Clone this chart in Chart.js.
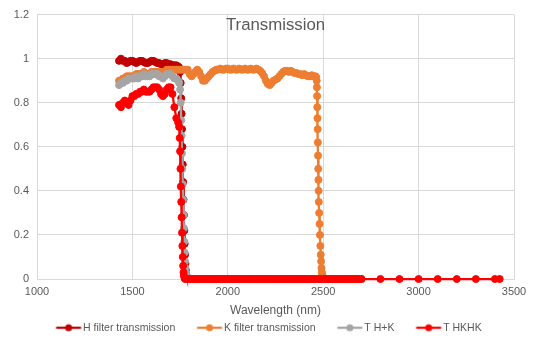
<!DOCTYPE html>
<html>
<head>
<meta charset="utf-8">
<title>Transmission</title>
<script src="https://cdn.jsdelivr.net/npm/chart.js@4/dist/chart.umd.min.js"></script>
<style>
  html, body { margin: 0; padding: 0; background: #ffffff; }
  #wrap { width: 537px; height: 344px; }
</style>
</head>
<body>
<div id="wrap"><canvas id="chart" width="537" height="344"></canvas></div>
<script>
// ---- Data (wavelength in nm, transmission as fraction) ----
const chartTitle = 'Transmission';
const xAxisTitle = 'Wavelength (nm)';
const seriesNames = ['H filter transmission', 'K filter transmission', 'T H+K', 'T HKHK'];
const xTicks = [1000, 1500, 2000, 2500, 3000, 3500];
const yTicks = [0, 0.2, 0.4, 0.6, 0.8, 1, 1.2];

// passband samples shared by the H, H+K and HKHK curves
const plateauWave = [1430, 1440, 1450, 1460, 1470, 1480, 1490, 1500, 1510, 1520, 1530, 1540, 1550, 1560, 1570, 1580,
                     1590, 1600, 1610, 1620, 1630, 1640, 1650, 1660, 1670, 1680, 1690, 1700, 1710, 1720, 1730, 1740];
const hPlateau = [0.99, 1.00, 0.99, 0.99, 0.98, 0.985, 0.99, 0.99, 0.985, 0.98, 0.985, 0.99, 0.99, 0.985, 0.98, 0.98,
                  0.985, 0.99, 0.99, 0.985, 0.98, 0.98, 0.975, 0.975, 0.98, 0.98, 0.975, 0.975, 0.97, 0.97, 0.97, 0.965];
const gPlateau = [0.88, 0.89, 0.89, 0.90, 0.90, 0.91, 0.91, 0.91, 0.91, 0.92, 0.91, 0.92, 0.92, 0.93, 0.92, 0.92,
                  0.92, 0.93, 0.93, 0.93, 0.93, 0.92, 0.92, 0.91, 0.92, 0.93, 0.93, 0.93, 0.92, 0.91, 0.91, 0.90];
const rPlateau = [0.79, 0.78, 0.80, 0.81, 0.80, 0.79, 0.81, 0.83, 0.83, 0.84, 0.84, 0.85, 0.85, 0.86, 0.85, 0.85,
                  0.85, 0.86, 0.87, 0.87, 0.87, 0.86, 0.84, 0.83, 0.84, 0.86, 0.87, 0.87, 0.84, 0.78, 0.73, 0.71];

// red edge of the H band
const hDropWave = [1745, 1750, 1753, 1756, 1758, 1760, 1762, 1764, 1766, 1768, 1770, 1772, 1774, 1776, 1778, 1780, 1783, 1786];
const hDrop     = [0.96, 0.94, 0.89, 0.82, 0.75, 0.68, 0.60, 0.52, 0.44, 0.36, 0.29, 0.22, 0.16, 0.11, 0.07, 0.04, 0.02, 0.008];
const gDropWave = [1745, 1750, 1753, 1756, 1758, 1760, 1762, 1764, 1766, 1768, 1770, 1772, 1774, 1776, 1778, 1780, 1783, 1786];
const gDrop     = [0.89, 0.86, 0.80, 0.72, 0.65, 0.57, 0.50, 0.43, 0.36, 0.29, 0.23, 0.17, 0.12, 0.08, 0.05, 0.03, 0.015, 0.005];
const rDropWave = [1745, 1748, 1750, 1752, 1754, 1756, 1758, 1760, 1762, 1764, 1766, 1768, 1770, 1773, 1776];
const rDrop     = [0.69, 0.64, 0.58, 0.50, 0.42, 0.35, 0.28, 0.21, 0.15, 0.10, 0.06, 0.03, 0.015, 0.005, 0];

// blocked region after the H edge
const tailWave = [1790, 1800, 1810, 1820, 1830, 1840, 1850, 1860, 1870, 1880, 1890, 1900, 1910, 1920, 1930, 1940,
                  1950, 1960, 1970, 1980, 1990, 2000, 2010, 2020, 2030, 2040, 2050, 2060, 2070, 2080, 2090, 2100,
                  2110, 2120, 2130, 2140, 2150, 2160, 2170, 2180, 2190, 2200, 2210, 2220, 2230, 2240, 2250, 2260,
                  2270, 2280, 2290, 2300, 2310, 2320, 2330, 2340, 2350, 2360, 2370, 2380, 2390, 2400, 2410, 2420,
                  2430, 2440, 2450, 2460, 2470, 2480, 2490, 2500, 2510, 2520, 2530, 2540, 2550, 2560, 2570, 2580,
                  2590, 2600, 2610, 2620, 2630, 2640, 2650, 2660, 2670, 2680, 2690, 2700];
const tailValue = [0, 0, 0, 0, 0, 0, 0, 0, 0, 0, 0, 0, 0, 0, 0, 0,
                   0, 0, 0, 0, 0, 0, 0, 0, 0, 0, 0, 0, 0, 0, 0, 0,
                   0, 0, 0, 0, 0, 0, 0, 0, 0, 0, 0, 0, 0, 0, 0, 0,
                   0, 0, 0, 0, 0, 0, 0, 0, 0, 0, 0, 0, 0, 0, 0, 0,
                   0, 0, 0, 0, 0, 0, 0, 0, 0, 0, 0, 0, 0, 0, 0, 0,
                   0, 0, 0, 0, 0, 0, 0, 0, 0, 0, 0, 0];
// sparse long-wavelength samples of the HKHK curve
const farWave  = [2800, 2900, 3000, 3100, 3200, 3300, 3400, 3425];
const farValue = [0, 0, 0, 0, 0, 0, 0, 0];

// K filter
const kWave = [1430, 1440, 1450, 1460, 1470, 1480, 1490, 1500, 1510, 1520, 1530, 1540, 1550, 1560, 1570, 1580,
               1590, 1600, 1610, 1620, 1630, 1640, 1650, 1660, 1670, 1680, 1690, 1700, 1710, 1720, 1730, 1740,
               1750, 1760, 1770, 1780, 1790, 1800, 1810, 1820, 1830, 1840, 1850, 1860, 1870, 1880, 1890, 1900,
               1910, 1920, 1930, 1940, 1950, 1960, 1970, 1980, 1990, 2000, 2010, 2020, 2030, 2040, 2050, 2060,
               2070, 2080, 2090, 2100, 2110, 2120, 2130, 2140, 2150, 2160, 2170, 2180, 2190, 2200, 2210, 2220,
               2230, 2240, 2250, 2260, 2270, 2280, 2290, 2300, 2310, 2320, 2330, 2340, 2350, 2360, 2370, 2380,
               2390, 2400, 2410, 2420, 2430, 2440, 2450, 2460];
const kPlateau = [0.90, 0.90, 0.91, 0.91, 0.92, 0.92, 0.92, 0.92, 0.92, 0.93, 0.93, 0.93, 0.93, 0.94, 0.93, 0.93,
                  0.93, 0.94, 0.94, 0.94, 0.94, 0.94, 0.94, 0.94, 0.94, 0.95, 0.95, 0.95, 0.95, 0.95, 0.95, 0.95,
                  0.95, 0.95, 0.95, 0.95, 0.95, 0.93, 0.92, 0.93, 0.94, 0.95, 0.94, 0.92, 0.90, 0.90, 0.91, 0.92,
                  0.93, 0.94, 0.945, 0.95, 0.95, 0.955, 0.95, 0.95, 0.955, 0.955, 0.95, 0.95, 0.955, 0.95, 0.95, 0.955,
                  0.95, 0.95, 0.955, 0.95, 0.95, 0.955, 0.95, 0.95, 0.955, 0.95, 0.945, 0.935, 0.92, 0.90, 0.885, 0.88,
                  0.89, 0.90, 0.905, 0.91, 0.92, 0.93, 0.94, 0.945, 0.945, 0.94, 0.945, 0.94, 0.935, 0.935, 0.93, 0.93,
                  0.925, 0.93, 0.925, 0.92, 0.92, 0.925, 0.92, 0.92];
const kDropWave = [2464, 2466, 2467, 2468, 2469, 2470, 2471, 2472, 2473, 2474, 2475, 2476, 2477, 2479, 2481, 2483,
                   2485, 2487, 2489, 2491, 2493, 2495, 2497, 2500, 2504];
const kDrop     = [0.915, 0.90, 0.87, 0.83, 0.78, 0.73, 0.68, 0.62, 0.56, 0.50, 0.45, 0.40, 0.35, 0.30, 0.25, 0.20,
                   0.15, 0.11, 0.08, 0.05, 0.03, 0.02, 0.01, 0.005, 0];
const kTailWave  = [2510, 2520, 2530, 2540, 2550, 2560, 2570, 2580, 2590, 2600, 2610, 2620, 2630, 2640, 2650, 2660,
                    2670, 2680, 2690, 2700];
const kTailValue = [0, 0, 0, 0, 0, 0, 0, 0, 0, 0, 0, 0, 0, 0, 0, 0, 0, 0, 0, 0];

const seriesColors = ['#C00000', '#ED7D31', '#A5A5A5', '#FF0000'];

// ---- helpers ----
function points(xs, ys) {
  return xs.map((x, i) => ({ x: x, y: ys[i] }));
}
function joined(...parts) {
  let out = [];
  for (let i = 0; i < parts.length; i += 2) out = out.concat(points(parts[i], parts[i + 1]));
  return out;
}

const hData = joined(plateauWave, hPlateau, hDropWave, hDrop, tailWave, tailValue);
const kData = joined(kWave, kPlateau, kDropWave, kDrop, kTailWave, kTailValue);
const gData = joined(plateauWave, gPlateau, gDropWave, gDrop, tailWave, tailValue);
const rData = joined(plateauWave, rPlateau, rDropWave, rDrop, tailWave, tailValue, farWave, farValue);

const FONT = "'Liberation Sans', Arial, sans-serif";
const TEXT = '#595959';
const GRID = '#D9D9D9';

// legend swatch: short line with a marker in the middle
function legendIcon(color) {
  const c = document.createElement('canvas');
  c.width = 48; c.height = 10;
  const g = c.getContext('2d');
  g.strokeStyle = color;
  g.lineWidth = 2.25;
  g.beginPath(); g.moveTo(21.5, 5); g.lineTo(46.5, 5); g.stroke();
  g.fillStyle = color;
  g.beginPath(); g.arc(34, 5, 3.5, 0, Math.PI * 2); g.fill();
  return c;
}
const legendIcons = seriesColors.map(legendIcon);

function dataset(i, data, order) {
  return {
    label: seriesNames[i],
    data: data,
    showLine: true,
    borderColor: seriesColors[i],
    backgroundColor: seriesColors[i],
    borderWidth: 2.25,
    pointRadius: 3.5,
    pointBorderWidth: 1,
    pointBorderColor: seriesColors[i],
    pointBackgroundColor: seriesColors[i],
    pointHoverRadius: 3.5,
    tension: 0,
    clip: false,
    order: order
  };
}

// chart title sits inside the plot area, above the curves
const innerTitle = {
  id: 'innerTitle',
  afterDraw(chart) {
    const { ctx, chartArea } = chart;
    ctx.save();
    ctx.font = '16.8px ' + FONT;
    ctx.fillStyle = TEXT;
    ctx.textAlign = 'center';
    ctx.textBaseline = 'middle';
    ctx.fillText(chartTitle, (chartArea.left + chartArea.right) / 2, chartArea.top + 10.5);
    ctx.restore();
  }
};

new Chart(document.getElementById('chart'), {
  type: 'scatter',
  data: {
    datasets: [
      dataset(0, hData, 4),
      dataset(1, kData, 3),
      dataset(2, gData, 2),
      dataset(3, rData, 1)
    ]
  },
  options: {
    responsive: false,
    animation: false,
    devicePixelRatio: 1,
    layout: { padding: { left: 7, right: 23, top: 14, bottom: 1 } },
    plugins: {
      tooltip: { enabled: false },
      title: { display: false },
      legend: {
        display: true,
        position: 'bottom',
        labels: {
          usePointStyle: true,
          pointStyleWidth: 38.5,
          padding: 5,
          color: TEXT,
          font: { family: FONT, size: 10.5 },
          sort: (a, b) => a.datasetIndex - b.datasetIndex,
          generateLabels(chart) {
            const items = Chart.defaults.plugins.legend.labels.generateLabels(chart);
            items.forEach(it => { it.pointStyle = legendIcons[it.datasetIndex]; });
            return items;
          }
        }
      }
    },
    scales: {
      x: {
        type: 'linear',
        min: 1000,
        max: 3500,
        afterBuildTicks(scale) { scale.ticks = xTicks.map(v => ({ value: v })); },
        afterFit(scale) { scale.height = 38.5; },
        ticks: {
          color: TEXT,
          font: { family: FONT, size: 11 },
          padding: 6,
          maxRotation: 0,
          autoSkip: false,
          callback: v => String(v)
        },
        grid: { color: GRID, lineWidth: 1, drawTicks: false },
        border: { color: GRID, width: 1 },
        title: {
          display: true,
          text: xAxisTitle,
          color: TEXT,
          font: { family: FONT, size: 12 },
          padding: { top: 0, bottom: 0 }
        }
      },
      y: {
        type: 'linear',
        min: 0,
        max: 1.2,
        afterBuildTicks(scale) { scale.ticks = yTicks.map(v => ({ value: v })); },
        afterFit(scale) { scale.width = 30; },
        ticks: {
          color: TEXT,
          font: { family: FONT, size: 11 },
          padding: 8,
          callback: v => String(v)
        },
        grid: { color: GRID, lineWidth: 1, drawTicks: false },
        border: { color: GRID, width: 1 }
      }
    }
  },
  plugins: [innerTitle]
});
</script>
</body>
</html>
